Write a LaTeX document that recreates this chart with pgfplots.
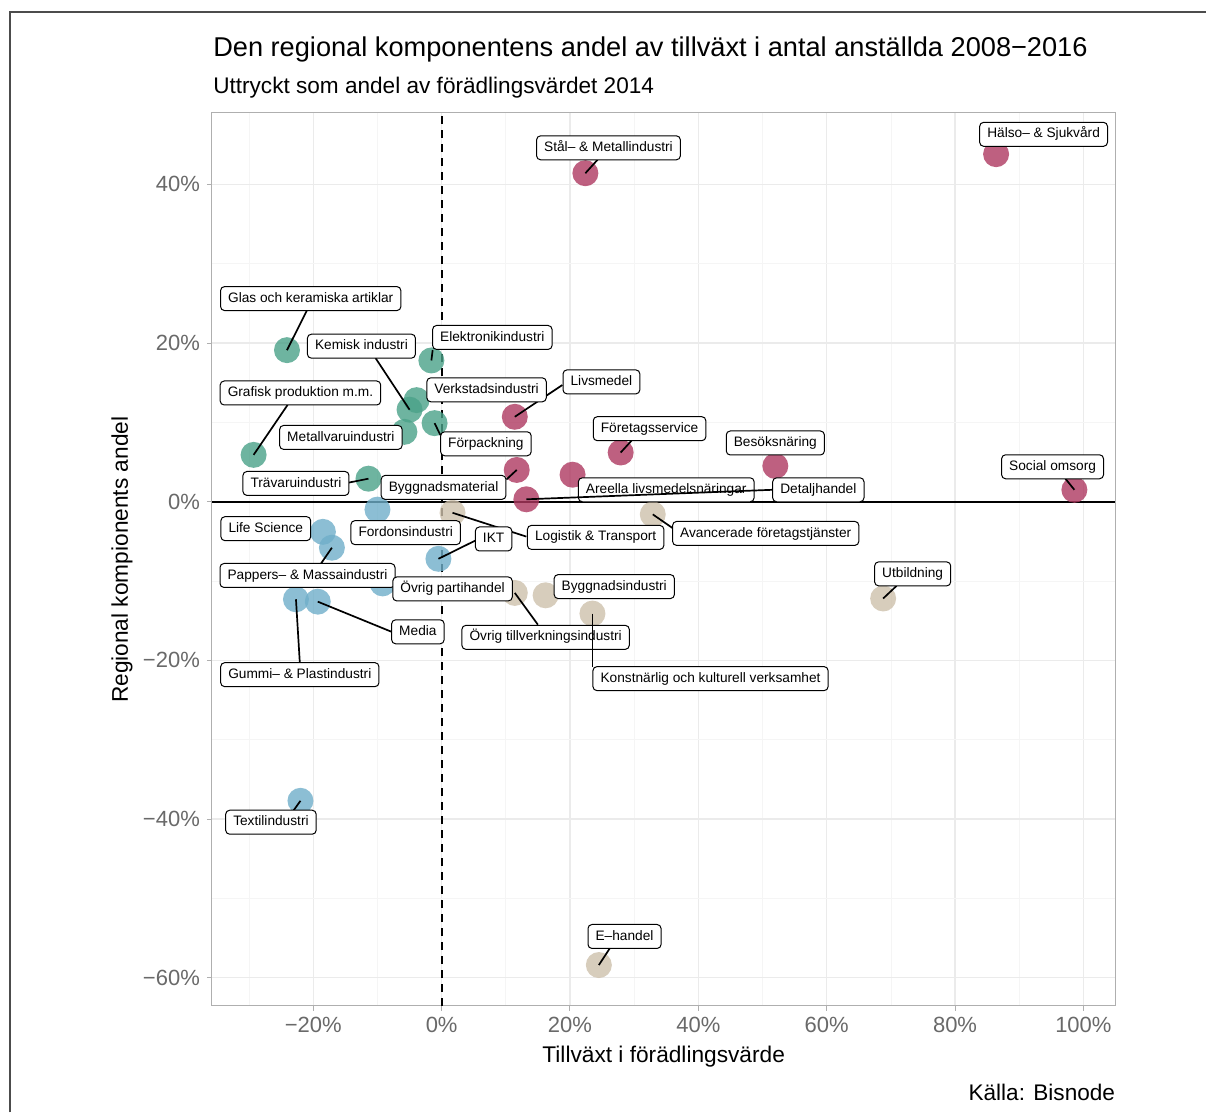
\documentclass[border=0pt]{standalone}
\usepackage{fontspec}
\setmainfont{Liberation Sans}
\usepackage{pgfplots}
\pgfplotsset{compat=1.18}

\definecolor{ptgreen}{RGB}{74,161,136}
\definecolor{ptblue}{RGB}{111,174,201}
\definecolor{ptred}{RGB}{174,56,96}
\definecolor{ptbeige}{RGB}{205,192,171}
\definecolor{ticktxt}{RGB}{105,105,105}
\definecolor{panelgray}{RGB}{175,175,175}

\tikzset{
  lbl/.style={draw=black, line width=0.5pt, fill=white,
    rounded corners=2pt, inner xsep=3.8pt, inner ysep=0pt, minimum height=12pt,
    font=\fontsize{6.85}{8}\selectfont, text height=5pt, text depth=1.4pt},
  segl/.style={black, line width=0.85pt},
}
\pgfplotsset{
  pts/.style={only marks, mark=*, mark size=6.5pt, draw opacity=0,
    mark options={draw opacity=0, fill=#1, fill opacity=0.8}}
}
% segment from point to label edge, then the label box
\newcommand{\seg}[4]{\draw[segl] (axis cs:#1,#2) -- (axis cs:#3,#4);}
\newcommand{\lab}[3]{\node[lbl] at (axis cs:#1,#2) {#3};}

\begin{document}
\begin{tikzpicture}
\path (0pt,0pt) rectangle (603.5pt,556.5pt);
\draw[gray!60!black, line width=0.6pt] (5pt,0pt) -- (5pt,550.5pt) -- (603.5pt,550.5pt);

\node[anchor=base west, inner sep=0pt, font=\fontsize{13.6}{16}\selectfont] at (106.5pt,528pt)
  {Den regional komponentens andel av tillväxt i antal anställda 2008−2016};
\node[anchor=base west, inner sep=0pt, font=\fontsize{11.3}{13}\selectfont] at (106.5pt,509.5pt)
  {Uttryckt som andel av förädlingsvärdet 2014};

\begin{axis}[
  set layers,
  at={(106pt,53.5pt)}, anchor=south west,
  scale only axis, width=452pt, height=446.5pt,
  xmin=-35.8, xmax=105, ymin=-63.5, ymax=49,
  clip=false,
  axis line style={panelgray, line width=0.5pt},
  xtick={-20,0,20,40,60,80,100},
  xticklabels={−20\%,0\%,20\%,40\%,60\%,80\%,100\%},
  minor xtick={-30,-10,10,30,50,70,90},
  ytick={-60,-40,-20,0,20,40},
  yticklabels={−60\%,−40\%,−20\%,0\%,20\%,40\%},
  minor ytick={-50,-30,-10,10,30},
  grid=both,
  major grid style={gray!16, line width=0.6pt},
  minor grid style={gray!8, line width=0.35pt},
  tick align=outside, major tick length=2.5pt, minor tick length=0pt,
  tick style={panelgray, line width=0.5pt},
  xtick pos=bottom, ytick pos=left,
  tick label style={font=\fontsize{11}{13}\selectfont, text=ticktxt},
]
\addplot[black, line width=0.9pt, dash pattern=on 4pt off 3pt] coordinates {(0,-63.5) (0,49)};
\addplot[black, line width=0.9pt] coordinates {(-35.8,0) (105,0)};

% green
\addplot[pts=ptgreen] table {
x y
-24.1 19.1
-1.6 17.8
-5.0 11.6
-3.9 12.8
-5.8 8.8
-1.1 9.9
-29.3 5.9
-11.4 2.9
};
% blue
\addplot[pts=ptblue] table {
x y
-10.0 -1.0
-18.5 -3.8
-17.1 -5.8
-0.5 -7.2
-9.2 -10.3
-22.7 -12.3
-19.3 -12.6
-22.0 -37.7
};
% beige
\addplot[pts=ptbeige] table {
x y
1.7 -1.4
11.4 -11.5
16.2 -11.8
23.5 -14.1
32.9 -1.6
68.8 -12.2
24.5 -58.4
};
% red
\addplot[pts=ptred] table {
x y
22.4 41.4
86.4 43.8
11.4 10.7
27.9 6.2
52.0 4.5
98.6 1.5
11.7 4.0
20.4 3.4
13.2 0.3
};

\begin{pgfonlayer}{axis foreground}
\seg{22.4}{41.4}{24.3}{43.1}\lab{26.0}{44.6}{Stål– \& Metallindustri}
\lab{93.8}{46.3}{Hälso– \& Sjukvård}
\seg{-24.1}{19.1}{-21.0}{24.1}\lab{-20.4}{25.6}{Glas och keramiska artiklar}
\seg{-5.0}{11.6}{-10.3}{18.1}\lab{-12.5}{19.6}{Kemisk industri}
\seg{-1.6}{17.8}{-1.4}{19.1}\lab{7.9}{20.7}{Elektronikindustri}
\seg{11.4}{10.7}{18.8}{14.7}\lab{24.9}{15.1}{Livsmedel}
\lab{7.0}{14.1}{Verkstadsindustri}
\seg{-29.3}{5.9}{-24.0}{12.2}\lab{-22.0}{13.7}{Grafisk produktion m.m.}
\lab{-15.7}{8.1}{Metallvaruindustri}
\seg{-1.1}{9.9}{-0.2}{8.4}\lab{6.9}{7.3}{Förpackning}
\seg{27.9}{6.2}{29.6}{7.7}\lab{32.4}{9.2}{Företagsservice}
\lab{52.0}{7.4}{Besöksnäring}
\seg{-11.4}{2.9}{-14.5}{2.4}\lab{-22.7}{2.3}{Trävaruindustri}
\seg{11.7}{4.0}{10.1}{2.8}\lab{0.3}{1.8}{Byggnadsmaterial}
\lab{35.0}{1.5}{Areella livsmedelsnäringar}
\seg{13.2}{0.3}{51.6}{1.5}\lab{58.7}{1.5}{Detaljhandel}
\seg{98.6}{1.5}{97.2}{2.9}\lab{95.2}{4.4}{Social omsorg}
\lab{-27.4}{-3.4}{Life Science}
\lab{-5.6}{-3.9}{Fordonsindustri}
\seg{1.7}{-1.4}{13.2}{-4.4}\lab{24.0}{-4.5}{Logistik \& Transport}
\seg{-0.5}{-7.2}{5.5}{-4.8}\lab{8.1}{-4.7}{IKT}
\seg{32.9}{-1.6}{36.3}{-3.5}\lab{50.5}{-4.0}{Avancerade företagstjänster}
\seg{68.8}{-12.2}{70.9}{-10.6}\lab{73.4}{-9.1}{Utbildning}
\seg{-17.1}{-5.8}{-18.8}{-7.8}\lab{-20.9}{-9.3}{Pappers– \& Massaindustri}
\lab{1.7}{-11.0}{Övrig partihandel}
\lab{26.9}{-10.7}{Byggnadsindustri}
\seg{-19.3}{-12.6}{-7.8}{-16.4}\lab{-3.7}{-16.4}{Media}
\seg{11.4}{-11.5}{15.0}{-15.5}\lab{16.2}{-17.1}{Övrig tillverkningsindustri}
\seg{-22.7}{-12.3}{-22.1}{-20.3}\lab{-22.1}{-21.8}{Gummi– \& Plastindustri}
\seg{23.5}{-14.1}{23.5}{-20.8}\lab{41.9}{-22.3}{Konstnärlig och kulturell verksamhet}
\seg{-22.0}{-37.7}{-23.5}{-39.4}\lab{-26.6}{-40.4}{Textilindustri}
\seg{24.5}{-58.4}{26.2}{-56.3}\lab{28.5}{-54.8}{E–handel}
\end{pgfonlayer}
\end{axis}

\node[font=\fontsize{11.35}{13}\selectfont] at (332pt,28pt) {Tillväxt i förädlingsvärde};
\node[rotate=90, font=\fontsize{11.35}{13}\selectfont] at (61pt,276.5pt) {Regional kompionents andel};
\node[anchor=base east, inner sep=0pt, font=\fontsize{11.3}{13}\selectfont] at (558pt,6pt) {Källa: Bisnode};
\end{tikzpicture}
\end{document}
